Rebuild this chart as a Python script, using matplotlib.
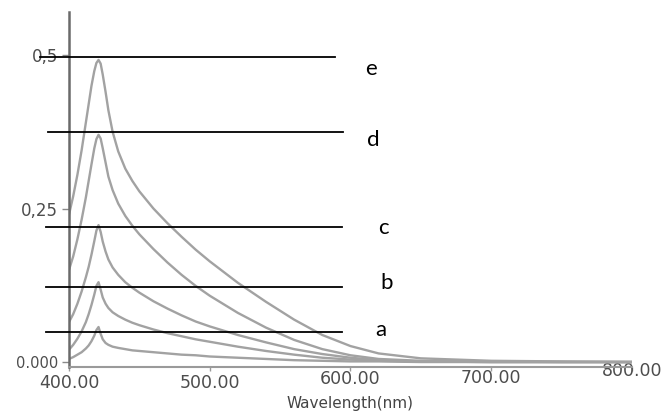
import matplotlib
matplotlib.use("Agg")
import matplotlib.pyplot as plt
import matplotlib.transforms as mtransforms

# Absorption spectra of five samples (a-e), surface plasmon band near 421 nm
wavelength = [400, 403, 406, 409, 412, 414, 416, 418, 419.5, 421, 422.5, 424,
              426, 428, 431, 435, 440, 445, 450, 460, 470, 480, 490, 500, 520,
              540, 560, 580, 600, 620, 650, 700, 750, 800]

abs_e = [0.240, 0.270, 0.305, 0.345, 0.390, 0.420, 0.450, 0.474, 0.487, 0.492,
         0.486, 0.468, 0.440, 0.410, 0.375, 0.343, 0.315, 0.295, 0.278, 0.250,
         0.226, 0.204, 0.183, 0.164, 0.129, 0.098, 0.069, 0.044, 0.026, 0.014,
         0.006, 0.002, 0.001, 0.000]
abs_d = [0.150, 0.172, 0.200, 0.232, 0.268, 0.295, 0.322, 0.348, 0.363, 0.370,
         0.364, 0.348, 0.325, 0.302, 0.280, 0.258, 0.238, 0.222, 0.208, 0.184,
         0.162, 0.142, 0.124, 0.108, 0.080, 0.056, 0.036, 0.021, 0.011, 0.005,
         0.002, 0.001, 0.000, 0.000]
abs_c = [0.065, 0.078, 0.095, 0.115, 0.138, 0.155, 0.175, 0.197, 0.214, 0.223,
         0.212, 0.196, 0.180, 0.167, 0.154, 0.142, 0.130, 0.121, 0.113, 0.099,
         0.087, 0.076, 0.066, 0.058, 0.044, 0.032, 0.021, 0.013, 0.007, 0.003,
         0.001, 0.000, 0.000, 0.000]
abs_b = [0.020, 0.028, 0.038, 0.050, 0.065, 0.078, 0.093, 0.110, 0.124, 0.130,
         0.118, 0.105, 0.095, 0.088, 0.081, 0.075, 0.069, 0.064, 0.060, 0.053,
         0.047, 0.042, 0.037, 0.033, 0.025, 0.018, 0.012, 0.007, 0.004, 0.002,
         0.001, 0.000, 0.000, 0.000]
abs_a = [0.005, 0.008, 0.012, 0.016, 0.022, 0.027, 0.034, 0.043, 0.052, 0.057,
         0.046, 0.037, 0.031, 0.028, 0.025, 0.023, 0.021, 0.019, 0.018, 0.016,
         0.014, 0.012, 0.011, 0.009, 0.007, 0.005, 0.003, 0.002, 0.001, 0.001,
         0.000, 0.000, 0.000, 0.000]
spectra = [abs_a, abs_b, abs_c, abs_d, abs_e]

# Sample markers: label, level, start and end of the guide line (nm)
marker_labels = ["a", "b", "c", "d", "e"]
marker_levels = [0.049, 0.122, 0.220, 0.375, 0.497]
marker_start = [383.7, 383.7, 383.7, 385.1, 379.4]
marker_end = [594.0, 594.0, 594.0, 594.7, 589.0]
label_x = [621.5, 626.0, 623.5, 616.5, 614.5]
label_y = [0.052, 0.129, 0.218, 0.362, 0.478]

xticks = [400, 500, 600, 700, 800]
xtick_labels = ["400.00", "500.00", "600.00", "700.00", "800.00"]
yticks = [0.0, 0.25, 0.5]
ytick_labels = ["0.000", "0,25", "0,5"]

fig = plt.figure(figsize=(6.67, 4.17), dpi=100)
ax = fig.add_axes([0.1034, 0.1199, 0.8441, 0.8513])

for values in spectra:
    ax.plot(wavelength, values, color="#a2a2a2", lw=1.7,
            solid_joinstyle="round", solid_capstyle="round")

for lvl, x0, x1 in zip(marker_levels, marker_start, marker_end):
    ax.plot([x0, x1], [lvl, lvl], color="black", lw=1.3, clip_on=False, zorder=5)
for lab, lx, ly in zip(marker_labels, label_x, label_y):
    ax.text(lx, ly, lab, fontsize=16, family="Lato", color="black",
            ha="center", va="center", clip_on=False)

ax.set_xlim(400, 800)
ax.set_ylim(-0.0081, 0.570)

for side in ("top", "right"):
    ax.spines[side].set_visible(False)
ax.spines["left"].set_color("#6a6a6a")
ax.spines["left"].set_linewidth(1.8)
ax.spines["bottom"].set_color("#9a9a9a")
ax.spines["bottom"].set_linewidth(1.5)

ax.set_xticks(xticks)
ax.set_xticklabels(xtick_labels, fontsize=12.5, color="#4d4d4d")
ax.set_yticks(yticks)
ax.set_yticklabels(ytick_labels, color="#4d4d4d")
ax.tick_params(axis="x", length=3, width=1, color="#9a9a9a", pad=2)
ax.tick_params(axis="y", length=5, width=1, color="#8a8a8a", pad=3)
ylabels = ax.get_yticklabels()
ylabels[0].set_fontsize(10.5)
ylabels[1].set_fontsize(12)
ylabels[2].set_fontsize(12)

# the printed axis drifts upward toward longer wavelengths
shifts = [0, 0, 4, 5, 12]
for lab, dy in zip(ax.get_xticklabels(), shifts):
    lab.set_transform(lab.get_transform() +
                      mtransforms.ScaledTranslation(0, dy / 100, fig.dpi_scale_trans))

ax.set_xlabel("Wavelength(nm)", fontsize=11, color="#444444", labelpad=3)

fig.savefig("out.png", dpi=100)
